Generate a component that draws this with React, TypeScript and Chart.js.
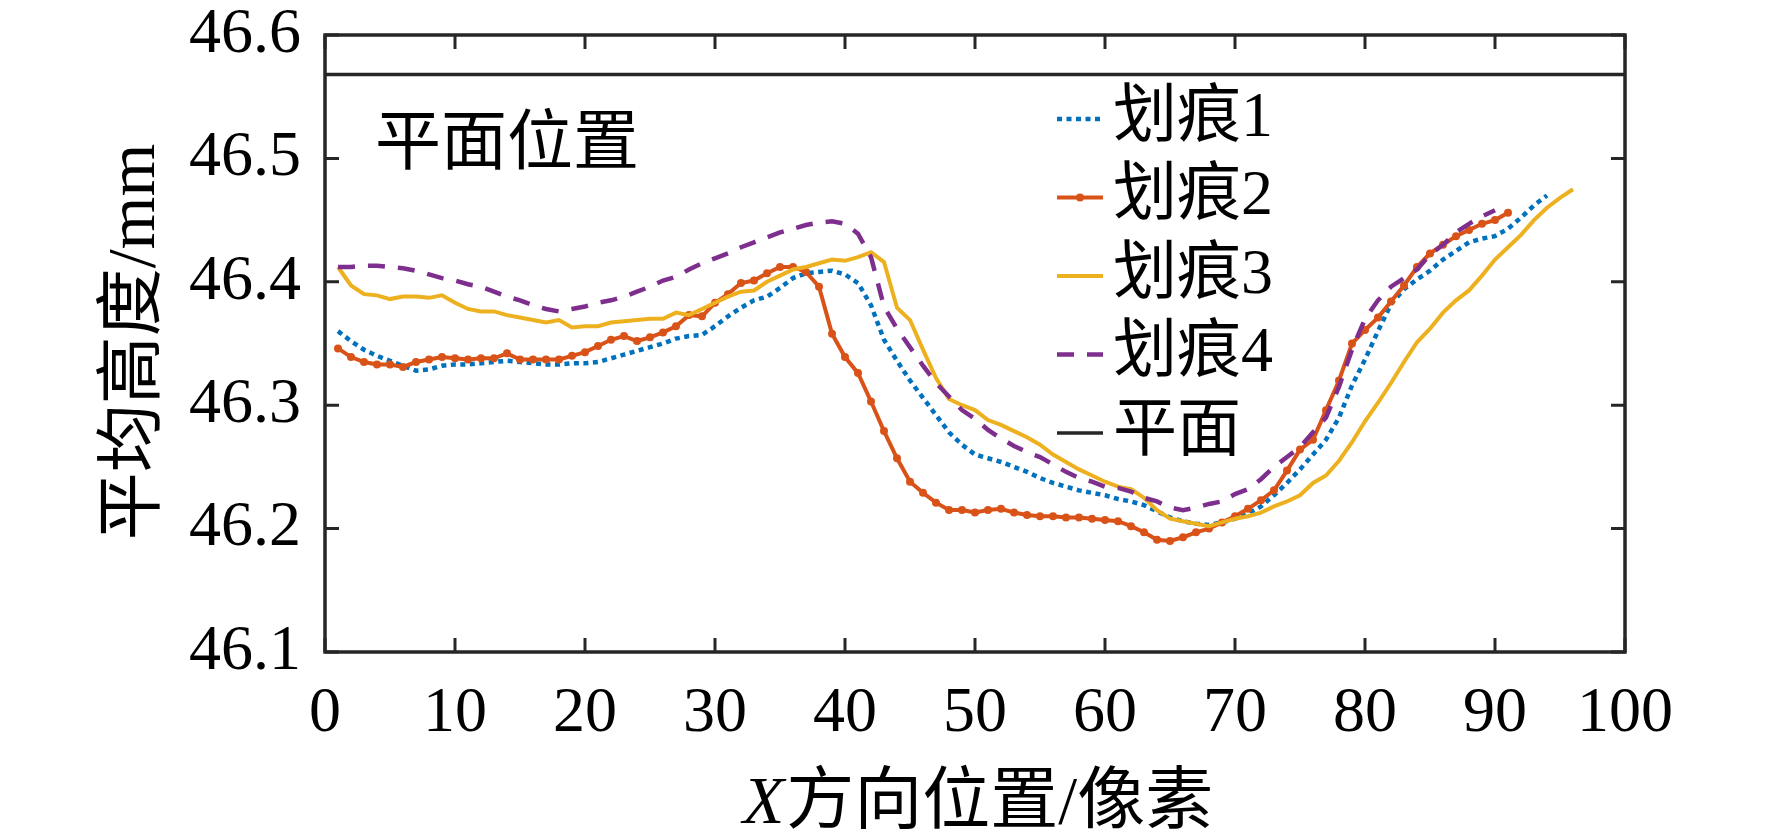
import { useEffect, useRef } from 'react';
import { Chart, registerables } from 'chart.js';

// sampled at x = 1, 2, 3 ... (pixels along X)
const scratch1 = [
  46.36, 46.352, 46.345, 46.34, 46.336, 46.332, 46.328, 46.329, 46.332, 46.333,
  46.333, 46.334, 46.335, 46.336, 46.335, 46.334, 46.333, 46.333, 46.334, 46.334,
  46.335, 46.338, 46.341, 46.344, 46.347, 46.35, 46.354, 46.356, 46.357, 46.364,
  46.372, 46.379, 46.385, 46.388, 46.395, 46.403, 46.407, 46.408, 46.409, 46.406,
  46.399, 46.381, 46.353, 46.336, 46.32, 46.306, 46.292, 46.278, 46.268, 46.26,
  46.257, 46.254, 46.25, 46.246, 46.241, 46.237, 46.234, 46.231, 46.229, 46.227,
  46.224, 46.222, 46.219, 46.214, 46.209, 46.206, 46.204, 46.203, 46.205, 46.208,
  46.212, 46.218, 46.227, 46.237, 46.248, 46.26, 46.272, 46.29, 46.316, 46.337,
  46.36, 46.382, 46.394, 46.402, 46.409, 46.418, 46.425, 46.432, 46.435, 46.437,
  46.443, 46.452, 46.462, 46.47,
];
const scratch2 = [
  46.346, 46.339, 46.335, 46.333, 46.333, 46.331, 46.335, 46.337, 46.339, 46.338,
  46.337, 46.338, 46.338, 46.342, 46.337, 46.337, 46.337, 46.337, 46.34, 46.343,
  46.348, 46.353, 46.356, 46.352, 46.355, 46.359, 46.364, 46.373, 46.372, 46.383,
  46.39, 46.399, 46.401, 46.407, 46.412, 46.412, 46.408, 46.396, 46.358, 46.339,
  46.326, 46.303, 46.279, 46.257, 46.238, 46.229, 46.221, 46.215, 46.215, 46.213,
  46.215, 46.216, 46.213, 46.211, 46.21, 46.21, 46.209, 46.209, 46.208, 46.207,
  46.206, 46.202, 46.197, 46.191, 46.19, 46.193, 46.197, 46.2, 46.205, 46.21,
  46.216, 46.223, 46.231, 46.247, 46.264, 46.272, 46.296, 46.32, 46.35, 46.361,
  46.371, 46.384, 46.397, 46.412, 46.423, 46.43, 46.437, 46.442, 46.447, 46.45,
  46.456,
];
const scratch3 = [
  46.412, 46.397, 46.39, 46.389, 46.386, 46.388, 46.388, 46.387, 46.389, 46.383,
  46.378, 46.376, 46.376, 46.373, 46.371, 46.369, 46.367, 46.369, 46.363, 46.364,
  46.364, 46.367, 46.368, 46.369, 46.37, 46.37, 46.375, 46.373, 46.378, 46.383,
  46.388, 46.392, 46.393, 46.4, 46.405, 46.41, 46.412, 46.415, 46.418, 46.417,
  46.42, 46.424, 46.416, 46.379, 46.369, 46.345, 46.322, 46.305, 46.3, 46.296,
  46.288, 46.284, 46.279, 46.274, 46.268, 46.26, 46.254, 46.248, 46.243, 46.238,
  46.234, 46.232, 46.225, 46.215, 46.208, 46.206, 46.204, 46.202, 46.205, 46.208,
  46.21, 46.213, 46.218, 46.222, 46.227, 46.237, 46.243, 46.255, 46.27, 46.287,
  46.302, 46.318, 46.335, 46.351, 46.362, 46.375, 46.385, 46.393, 46.405, 46.418,
  46.428, 46.438, 46.45, 46.46, 46.468, 46.475,
];
const scratch4 = [
  46.412, 46.412, 46.413, 46.413, 46.412, 46.411, 46.409, 46.406, 46.403, 46.401,
  46.398, 46.396, 46.392, 46.388, 46.385, 46.381, 46.378, 46.376, 46.378, 46.38,
  46.383, 46.385, 46.388, 46.392, 46.396, 46.401, 46.404, 46.41, 46.415, 46.419,
  46.423, 46.428, 46.432, 46.436, 46.44, 46.443, 46.446, 46.448, 46.449, 46.447,
  46.439, 46.42, 46.38, 46.362, 46.347, 46.332, 46.318, 46.307, 46.296, 46.289,
  46.28, 46.273, 46.267, 46.262, 46.258, 46.252, 46.246, 46.241, 46.238, 46.234,
  46.233, 46.23, 46.225, 46.222, 46.217, 46.215, 46.217, 46.22, 46.222, 46.228,
  46.232, 46.24, 46.25, 46.258, 46.266, 46.278, 46.29, 46.315, 46.345, 46.37,
  46.385, 46.396, 46.403, 46.41, 46.422, 46.43, 46.44, 46.447, 46.453, 46.458,
];
const planeLevel = 46.568;
const planeSpan = [0, 100];

const seriesNames = ['划痕1', '划痕2', '划痕3', '划痕4', '平面'];
const seriesColors = ['#0072BD', '#D95319', '#EDB120', '#7E2F8E', '#262626'];
const xTicks = [0, 10, 20, 30, 40, 50, 60, 70, 80, 90, 100];
const yTicks = [46.1, 46.2, 46.3, 46.4, 46.5, 46.6];

const SERIF = '"Liberation Serif", "Noto Sans CJK SC", serif';
const INK = '#262626';

const toPoints = (vals: number[]) => vals.map((y, i) => ({ x: i + 1, y }));

const decor = {
  id: 'decor',
  afterDatasetsDraw(chart: any) {
    const { ctx, chartArea: a, scales } = chart;
    const xs = scales.x;
    const ys = scales.y;
    ctx.save();
    // box + inward ticks
    ctx.strokeStyle = INK;
    ctx.lineWidth = 3.5;
    ctx.strokeRect(a.left, a.top, a.right - a.left, a.bottom - a.top);
    ctx.lineWidth = 3;
    ctx.beginPath();
    xTicks.forEach((t) => {
      const px = xs.getPixelForValue(t);
      ctx.moveTo(px, a.bottom);
      ctx.lineTo(px, a.bottom - 14);
      ctx.moveTo(px, a.top);
      ctx.lineTo(px, a.top + 14);
    });
    yTicks.forEach((t) => {
      const py = ys.getPixelForValue(t);
      ctx.moveTo(a.left, py);
      ctx.lineTo(a.left + 14, py);
      ctx.moveTo(a.right, py);
      ctx.lineTo(a.right - 14, py);
    });
    ctx.stroke();

    // legend
    ctx.textBaseline = 'middle';
    ctx.textAlign = 'left';
    ctx.font = `64px ${SERIF}`;
    chart.data.datasets.forEach((ds: any, i: number) => {
      const y = 119 + i * 78.5;
      ctx.save();
      ctx.strokeStyle = ds.borderColor;
      ctx.lineWidth = ds.borderWidth;
      ctx.setLineDash(ds.borderDash || []);
      ctx.beginPath();
      ctx.moveTo(1057, y);
      ctx.lineTo(1103, y);
      ctx.stroke();
      if (ds.pointRadius > 0) {
        ctx.fillStyle = ds.borderColor;
        ctx.beginPath();
        ctx.arc(1080, y, ds.pointRadius, 0, Math.PI * 2);
        ctx.fill();
      }
      ctx.restore();
      ctx.fillStyle = '#000';
      ctx.fillText(ds.label, 1113, y);
    });

    // annotation
    ctx.fillStyle = '#000';
    ctx.font = `66px ${SERIF}`;
    ctx.fillText('平面位置', 375, 147);

    // y title
    ctx.save();
    ctx.translate(136, 342);
    ctx.rotate(-Math.PI / 2);
    ctx.textAlign = 'center';
    ctx.font = `68px ${SERIF}`;
    ctx.fillText('平均高度/mm', 0, 0);
    ctx.restore();

    // x title with italic X
    ctx.font = `italic 68px ${SERIF}`;
    const w1 = ctx.measureText('X').width;
    ctx.font = `68px ${SERIF}`;
    const rest = '方向位置/像素';
    const w2 = ctx.measureText(rest).width;
    const x0 = 977 - (w1 + w2) / 2;
    ctx.textAlign = 'left';
    ctx.font = `italic 68px ${SERIF}`;
    ctx.fillText('X', x0, 805);
    ctx.font = `68px ${SERIF}`;
    ctx.fillText(rest, x0 + w1 + 2, 805);
    ctx.restore();
  },
};

export default function App() {
  const canvasRef = useRef<HTMLCanvasElement>(null);

  useEffect(() => {
    Chart.register(...registerables);
    const ctx = canvasRef.current!.getContext('2d')!;
    const line = (i: number, data: any[], extra: any) => ({
      label: seriesNames[i],
      data,
      borderColor: seriesColors[i],
      backgroundColor: seriesColors[i],
      pointRadius: 0,
      borderWidth: 4,
      tension: 0,
      fill: false,
      order: 5 - i,
      ...extra,
    });
    const chart = new Chart(ctx, {
      type: 'line',
      data: {
        datasets: [
          line(0, toPoints(scratch1), { borderWidth: 4.5, borderDash: [5, 4.5] }),
          line(1, toPoints(scratch2), { pointRadius: 4, pointBorderWidth: 0 }),
          line(2, toPoints(scratch3), {}),
          line(3, toPoints(scratch4), { borderWidth: 4.5, borderDash: [17, 13] }),
          line(4, planeSpan.map((x) => ({ x, y: planeLevel })), { borderWidth: 3.5 }),
        ],
      },
      options: {
        animation: false,
        responsive: false,
        devicePixelRatio: 1,
        layout: { padding: { left: 0, top: 35, right: 147, bottom: 0 } },
        plugins: { legend: { display: false }, tooltip: { enabled: false } },
        scales: {
          x: {
            type: 'linear',
            min: 0,
            max: 100,
            afterBuildTicks: (s: any) => { s.ticks = xTicks.map((value) => ({ value })); },
            afterFit: (s: any) => {
              s.height = 186;
              s.paddingLeft = 0;
              s.paddingRight = 0;
            },
            grid: { display: false, drawTicks: false },
            border: { display: false },
            ticks: {
              autoSkip: false,
              maxRotation: 0,
              padding: 24,
              color: '#000',
              font: { family: SERIF, size: 64 },
            },
          },
          y: {
            type: 'linear',
            min: 46.1,
            max: 46.6,
            afterBuildTicks: (s: any) => { s.ticks = yTicks.map((value) => ({ value })); },
            afterFit: (s: any) => {
              s.width = 325;
              s.paddingTop = 0;
              s.paddingBottom = 0;
            },
            grid: { display: false, drawTicks: false },
            border: { display: false },
            ticks: {
              padding: 24,
              color: '#000',
              font: { family: SERIF, size: 64 },
              callback: (v: any) => Number(v).toFixed(1),
            },
          },
        },
      },
      plugins: [decor],
    });
    return () => chart.destroy();
  }, []);

  return (
    <canvas
      ref={canvasRef}
      width={1772}
      height={838}
      style={{ position: 'absolute', left: 0, top: 0, background: '#fff' }}
    />
  );
}
